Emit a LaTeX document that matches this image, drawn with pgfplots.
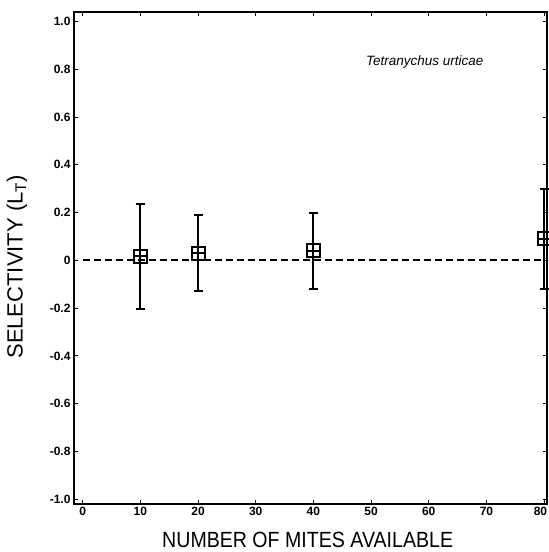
\documentclass[border=0pt]{standalone}
\usepackage{pgfplots}
\pgfplotsset{compat=1.18}
\usepackage{fontspec}
\setmainfont{Liberation Sans}
\newfontfamily\narrowfont[FakeStretch=0.89]{Liberation Sans}
\begin{document}
\begin{tikzpicture}
\begin{axis}[
  scale only axis,
  width=473pt, height=492pt,
  at={(0,0)}, anchor=south west,
  xmin=-1.5, xmax=80.5,
  ymin=-1.02, ymax=1.04,
  xtick={0,10,...,80},
  xticklabels={0,10,20,30,40,50,60,70,{\makebox[6pt][r]{80}}},
  ytick={-1,-0.8,-0.6,-0.4,-0.2,0,0.2,0.4,0.6,0.8,1.0},
  yticklabels={-1.0,-0.8,-0.6,-0.4,-0.2,0,0.2,0.4,0.6,0.8,1.0},
  tick align=inside,
  major tick length=4pt,
  tick style={line width=1pt, black},
  axis line style={line width=2.6pt},
  /pgf/number format/assume math mode=true,
  ticklabel style={font=\fontsize{12}{14}\selectfont\bfseries},
  xlabel={NUMBER OF MITES AVAILABLE},
  ylabel={SELECTIVITY (L\textsubscript{T})},
  xlabel style={font=\narrowfont\fontsize{22}{24}\selectfont, at={(axis description cs:0.494,0)}, anchor=base, yshift=-43pt, inner sep=1pt},
  ylabel style={font=\fontsize{22}{24}\selectfont, at={(axis description cs:-0.1205,0.482)}, anchor=center},
  clip=false,
]
\addplot[black, line width=2pt, dash pattern=on 7pt off 4pt] coordinates {(0,0) (80,0)};
\addplot[black, line width=2pt, only marks, mark=square, mark size=6.5pt,
  error bars/.cd, y dir=both, y explicit, error mark options={rotate=90, mark size=4.5pt, line width=2pt}, error bar style={line width=1.8pt}]
  coordinates {
  (10,0.017) +- (0,0.22)
  (20,0.03) +- (0,0.16)
  (40,0.04) +- (0,0.16)
  (80,0.09) +- (0,0.21)
  };
\addplot[black, line width=2pt, only marks, mark=+, mark size=6.5pt] coordinates {
  (10,0.017) (20,0.03) (40,0.04) (80,0.09)};
\node[font=\fontsize{13.5}{15}\selectfont\itshape] at (axis cs:59.3,0.83) {Tetranychus urticae};
\end{axis}
\pgfresetboundingbox
\path (-74pt,-48pt) rectangle (475pt,504pt);
\end{tikzpicture}
\end{document}
